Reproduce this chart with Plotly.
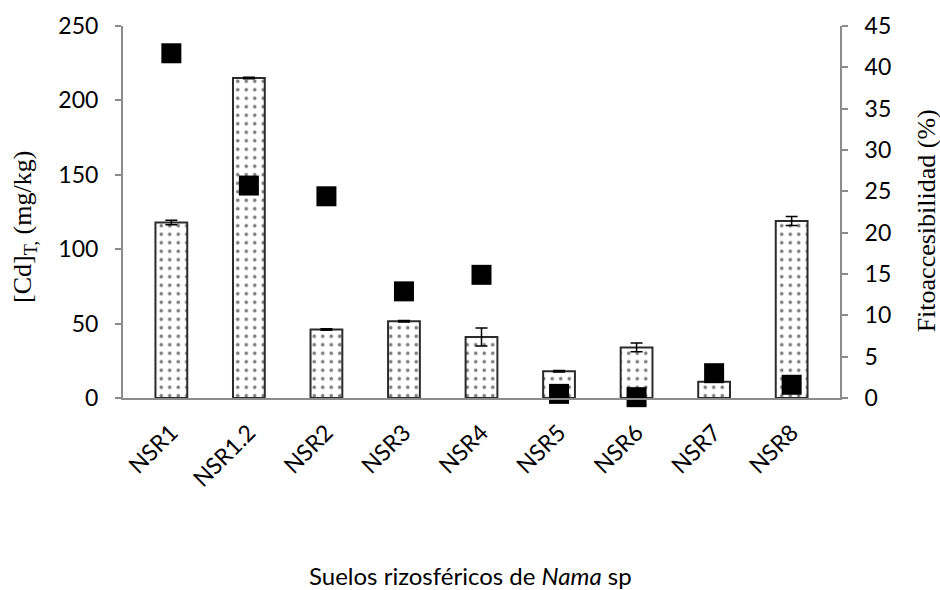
import plotly.graph_objects as go

# Rhizosphere soil samples
categories = ["NSR1", "NSR1.2", "NSR2", "NSR3", "NSR4", "NSR5", "NSR6", "NSR7", "NSR8"]
# Total cadmium concentration (mg/kg) and its error
cd_total = [118, 215, 46, 51.5, 41, 18, 34, 11, 119]
cd_error = [1.5, 0.5, 0.5, 0.5, 6, 0.5, 3, 0.3, 3]
# Phytoaccessibility (%)
fito = [41.7, 25.7, 24.4, 12.9, 14.9, 0.5, 0.1, 3.0, 1.6]

left_ticks = [0, 50, 100, 150, 200, 250]
right_ticks = [0, 5, 10, 15, 20, 25, 30, 35, 40, 45]

sans = "Lato"
serif = "Liberation Serif"
axis_grey = "#8c8c8c"

fig = go.Figure()

fig.add_trace(go.Bar(
    x=categories,
    y=cd_total,
    width=0.41,
    marker=dict(
        color="white",
        line=dict(color="#2b2b2b", width=2),
        pattern=dict(shape=".", fgcolor="#000000", bgcolor="white",
                     size=8.5, solidity=0.14),
    ),
    error_y=dict(type="data", array=cd_error, visible=True,
                 color="black", thickness=1.5, width=6),
    showlegend=False,
))

fig.add_trace(go.Scatter(
    x=categories,
    y=fito,
    yaxis="y2",
    mode="markers",
    cliponaxis=False,
    marker=dict(symbol="square", size=20, color="black",
                line=dict(width=0)),
    showlegend=False,
))

fig.update_layout(
    width=940,
    height=590,
    margin=dict(l=123, r=100, t=26, b=192),
    plot_bgcolor="white",
    paper_bgcolor="white",
    font=dict(family=sans, size=23, color="black"),
    xaxis=dict(
        showline=True, linecolor=axis_grey, linewidth=2,
        ticks="", tickangle=-45, ticklabelstandoff=10,
        tickfont=dict(family=sans, size=23),
        showgrid=False, zeroline=False,
    ),
    yaxis=dict(
        range=[0, 250], tickvals=left_ticks,
        showline=True, linecolor=axis_grey, linewidth=2,
        ticks="outside", ticklen=6, tickcolor=axis_grey, tickwidth=2,
        ticklabelstandoff=12,
        tickfont=dict(family=sans, size=23),
        showgrid=False, zeroline=False,
    ),
    yaxis2=dict(
        range=[0, 45], tickvals=right_ticks,
        overlaying="y", side="right",
        showline=True, linecolor=axis_grey, linewidth=2,
        ticks="outside", ticklen=6, tickcolor=axis_grey, tickwidth=2,
        ticklabelstandoff=12,
        tickfont=dict(family=sans, size=23),
        showgrid=False, zeroline=False,
    ),
    annotations=[
        dict(text="[Cd]<sub>T,</sub> (mg/kg)", xref="paper", yref="paper",
             x=-0.138, y=0.46, textangle=-90, showarrow=False,
             font=dict(family=serif, size=26), xanchor="center", yanchor="middle"),
        dict(text="Fitoaccesibilidad (%)", xref="paper", yref="paper",
             x=1.12, y=0.475, textangle=-90, showarrow=False,
             font=dict(family=serif, size=26), xanchor="center", yanchor="middle"),
        dict(text="Suelos rizosféricos de <i>Nama</i> sp", xref="paper", yref="paper",
             x=0.484, y=-0.476, showarrow=False,
             font=dict(family=sans, size=24), xanchor="center", yanchor="middle"),
    ],
)

fig.write_html("out.html")
